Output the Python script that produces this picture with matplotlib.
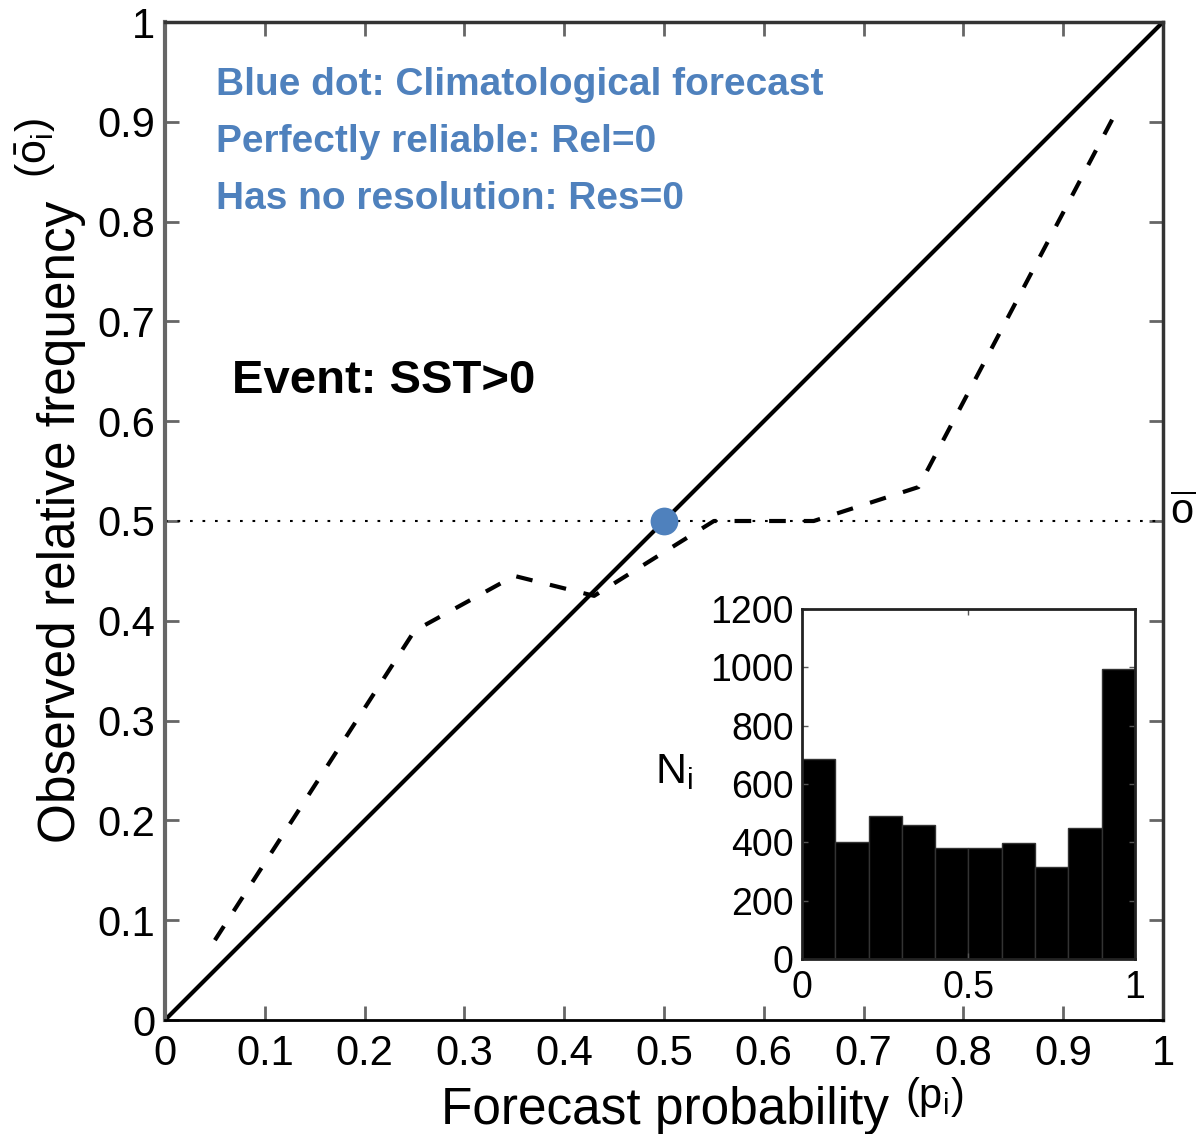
import matplotlib
matplotlib.use("Agg")
import matplotlib.pyplot as plt
from matplotlib import font_manager

W, H = 1197, 1134

# reliability curve (dashed)
fc_prob = [0.05, 0.25, 0.35, 0.43, 0.55, 0.65, 0.755, 0.95]
obs_freq = [0.08, 0.39, 0.445, 0.425, 0.50, 0.50, 0.534, 0.904]
clim = 0.5

# sharpness histogram (inset)
bin_left = [0.0, 0.1, 0.2, 0.3, 0.4, 0.5, 0.6, 0.7, 0.8, 0.9]
counts = [685, 400, 491, 459, 379, 379, 397, 314, 450, 994]

main_ticks = [0, 0.1, 0.2, 0.3, 0.4, 0.5, 0.6, 0.7, 0.8, 0.9, 1]
main_labels = ['0', '0.1', '0.2', '0.3', '0.4', '0.5', '0.6', '0.7', '0.8', '0.9', '1']
inset_yticks = [0, 200, 400, 600, 800, 1000, 1200]
inset_xticks = [0, 0.5, 1]
inset_xlabels = ['0', '0.5', '1']

notes = ['Blue dot: Climatological forecast',
         'Perfectly reliable: Rel=0',
         'Has no resolution: Res=0']
event = 'Event: SST>0'

blue = '#4f81bd'

plt.rcParams['font.family'] = ['Liberation Sans', 'DejaVu Sans']
plt.rcParams['mathtext.fontset'] = 'custom'
plt.rcParams['mathtext.rm'] = 'Liberation Sans'
plt.rcParams['mathtext.it'] = 'Liberation Sans:italic'

names = {f.name for f in font_manager.fontManager.ttflist}
if 'Liberation Sans Narrow' in names:
    note_font, note_size = 'Liberation Sans Narrow', 32
else:
    note_font, note_size = 'Liberation Sans', 28


def fx(px):
    return px / W


def fy(py):
    return 1 - py / H


fig = plt.figure(figsize=(W / 100, H / 100), dpi=100)
ax = fig.add_axes([fx(165), fy(1020), 998 / W, 998 / H])

ax.plot([0, 1], [0, 1], color='black', lw=3, solid_capstyle='butt')
ax.axhline(clim, color='black', lw=1.5, linestyle=(0, (1.3, 4.7)))
ax.plot(fc_prob, obs_freq, color='black', lw=3, linestyle=(0, (4, 4.3)))
ax.plot([clim], [clim], 'o', color=blue, ms=20, mec='none', zorder=5)

ax.set_xlim(0, 1)
ax.set_ylim(0, 1)
ax.set_xticks(main_ticks)
ax.set_xticklabels(main_labels)
ax.set_yticks(main_ticks)
ax.set_yticklabels(main_labels)
ax.tick_params(direction='in', length=10, width=2, color='#666',
               top=True, right=True, labelsize=30)
ax.tick_params(axis='x', pad=10)
ax.tick_params(axis='y', pad=7)

ax.spines['left'].set_color('#666')
ax.spines['left'].set_linewidth(3)
ax.spines['bottom'].set_color('black')
ax.spines['bottom'].set_linewidth(2)
for side in ['top', 'right']:
    ax.spines[side].set_color('#333')
    ax.spines[side].set_linewidth(2.5)

# labels
fig.text(fx(62), fy(522), 'Observed relative frequency', rotation=90,
         ha='center', va='center', size=37)
fig.text(fx(36), fy(148), r'$(\bar{\mathrm{o}}_\mathrm{i})$', rotation=90,
         ha='center', va='center', size=31)
fig.text(fx(665), fy(1124), 'Forecast probability', ha='center',
         va='baseline', size=37)
fig.text(fx(905), fy(1108), r'$(\mathrm{p}_\mathrm{i})$', ha='left',
         va='baseline', size=30)
fig.text(fx(1170), fy(524), r'$\overline{\mathrm{o}}$', ha='left',
         va='baseline', size=30)

for i, line in enumerate(notes):
    fig.text(fx(216), fy(95 + 57 * i), line, color=blue, family=note_font,
             weight='bold', size=note_size, va='baseline')
fig.text(fx(232), fy(393), event, color='black', weight='bold', size=34,
         va='baseline')

# inset histogram
ax2 = fig.add_axes([fx(802), fy(959), 333 / W, 350 / H])
ax2.bar(bin_left, counts, width=0.1, align='edge', color='black',
        edgecolor='#333', lw=1)
ax2.set_xlim(0, 1)
ax2.set_ylim(0, 1200)
ax2.set_xticks(inset_xticks)
ax2.set_xticklabels(inset_xlabels)
ax2.set_yticks(inset_yticks)
ax2.tick_params(direction='in', length=4, width=1, color='#555',
                top=True, right=True, labelsize=27)
ax2.tick_params(axis='x', pad=8)
ax2.tick_params(axis='y', pad=6)
for side in ax2.spines:
    ax2.spines[side].set_color('#222')
    ax2.spines[side].set_linewidth(2)

fig.text(fx(655), fy(783), r'$\mathrm{N}_\mathrm{i}$', ha='left',
         va='baseline', size=31)

fig.savefig('out.png', dpi=100)
